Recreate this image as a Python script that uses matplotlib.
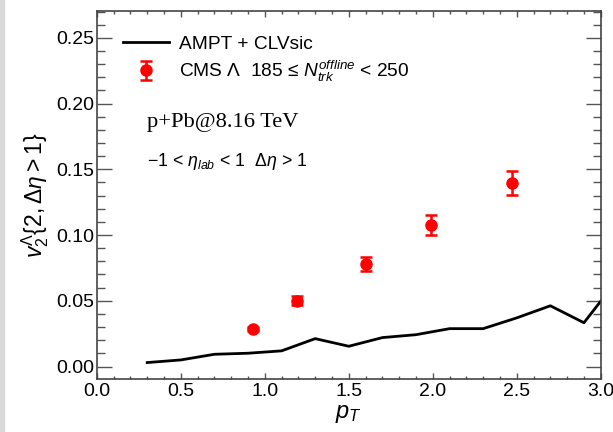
import matplotlib

matplotlib.use("Agg")
import matplotlib.pyplot as plt
from matplotlib.ticker import MultipleLocator

# AMPT + CLVsic curve
ampt_pt = [0.3, 0.5, 0.7, 0.9, 1.1, 1.3, 1.5, 1.7, 1.9, 2.1, 2.3, 2.5, 2.7, 2.9, 3.0]
ampt_v2 = [0.003, 0.005, 0.0093, 0.0101, 0.0119, 0.0212, 0.0154, 0.022, 0.0242,
           0.0288, 0.0288, 0.0370, 0.0462, 0.0333, 0.0497]

# CMS Lambda data
cms_pt = [0.93, 1.19, 1.60, 1.99, 2.47]
cms_v2 = [0.0285, 0.0500, 0.0780, 0.1075, 0.1398]
cms_err = [0.0012, 0.0033, 0.0053, 0.0074, 0.0093]

plt.rcParams["font.family"] = ["Liberation Sans", "DejaVu Sans"]
plt.rcParams["mathtext.fontset"] = "custom"
plt.rcParams["mathtext.rm"] = "Liberation Sans"
plt.rcParams["mathtext.it"] = "Liberation Sans:italic"
plt.rcParams["mathtext.sf"] = "Liberation Sans"

fig = plt.figure(figsize=(6.13, 4.32), dpi=100)
ax = fig.add_axes([0.158, 0.1227, 0.822, 0.852])

ax.plot(ampt_pt, ampt_v2, color="black", lw=2.0, label="AMPT + CLVsic")
ax.errorbar(cms_pt, cms_v2, yerr=cms_err, fmt="o", color="#ff0000", ms=8,
            elinewidth=1.8, capsize=4, capthick=1.8,
            label="CMS Λ  185 ≤ $N_{trk}^{offline}$ < 250")

ax.set_xlim(0.0, 3.0)
ax.set_ylim(-0.0095, 0.2705)
ax.xaxis.set_major_locator(MultipleLocator(0.5))
ax.xaxis.set_minor_locator(MultipleLocator(0.1))
ax.yaxis.set_major_locator(MultipleLocator(0.05))
ax.yaxis.set_minor_locator(MultipleLocator(0.01))
ax.xaxis.set_major_formatter(plt.FormatStrFormatter("%.1f"))
ax.yaxis.set_major_formatter(plt.FormatStrFormatter("%.2f"))

for side in ax.spines.values():
    side.set_color("#444444")
    side.set_linewidth(1.2)
ax.tick_params(which="both", direction="in", top=True, right=True,
               color="#555555", labelsize=14, width=1.0)
ax.tick_params(axis="y", which="major", length=11, pad=2)
ax.tick_params(axis="y", which="minor", length=5.5)
ax.tick_params(axis="x", which="major", length=4, pad=3)
ax.tick_params(axis="x", which="minor", length=2.5)

ax.set_xlabel(r"$p_T$", fontsize=17, labelpad=2)
ax.set_ylabel(r"$v_2^{\Lambda}$$\{2, \Delta\eta > 1\}$", fontsize=16.5, labelpad=4)

ax.legend(loc="upper left", bbox_to_anchor=(0.03, 0.965), frameon=False,
          fontsize=13.8, handlelength=2.35, handletextpad=0.55, labelspacing=0.32,
          borderaxespad=0.2)

ax.text(0.10, 0.698, "p+Pb@8.16 TeV", transform=ax.transAxes,
        family="Liberation Serif", fontsize=16.2, va="center", ha="left")
ax.text(0.10, 0.59, r"−1 < $\eta_{lab}$ < 1  $\Delta\eta$ > 1",
        transform=ax.transAxes, fontsize=12.8, va="center", ha="left")

# grey strip on the left edge
fig.patches.append(plt.Rectangle((0, 0), 0.007, 1, transform=fig.transFigure,
                                 color="#d9d9d9", zorder=-1))

fig.savefig("out.png", dpi=100)
